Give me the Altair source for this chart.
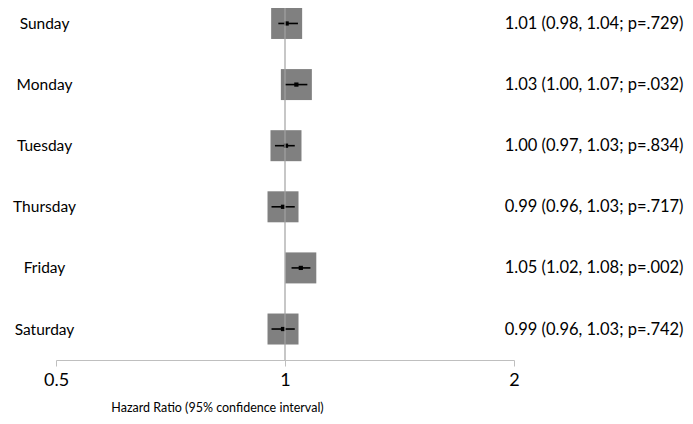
import altair as alt
import pandas as pd

days = ["Sunday", "Monday", "Tuesday", "Thursday", "Friday", "Saturday"]
hr = [1.005, 1.035, 1.003, 0.994, 1.049, 0.994]
lo = [0.98, 1.00, 0.97, 0.96, 1.02, 0.96]
hi = [1.04, 1.07, 1.03, 1.03, 1.08, 1.03]
labels = [
    "1.01 (0.98, 1.04; p=.729)",
    "1.03 (1.00, 1.07; p=.032)",
    "1.00 (0.97, 1.03; p=.834)",
    "0.99 (0.96, 1.03; p=.717)",
    "1.05 (1.02, 1.08; p=.002)",
    "0.99 (0.96, 1.03; p=.742)",
]
x_ticks = [0.5, 1, 2]
ref_value = [1]

df = pd.DataFrame({"day": days, "hr": hr, "lo": lo, "hi": hi, "label": labels})
ref = pd.DataFrame({"v": ref_value})

FONT = "Lato"

xscale = alt.Scale(type="log", domain=[0.5, 2])
yscale = alt.Scale(type="point", domain=days, padding=0.38, align=0.333)
yscale_r = alt.Scale(type="point", domain=labels, padding=0.38, align=0.333)

x_enc = alt.X(
    "hr:Q",
    scale=xscale,
    axis=alt.Axis(
        values=x_ticks,
        format="~g",
        grid=False,
        domainColor="#bfbfbf",
        tickColor="#bfbfbf",
        tickSize=6,
        labelFlush=False,
        labelFontSize=18,
        labelFont=FONT,
        labelColor="#000000",
        labelPadding=5,
        title="Hazard Ratio (95% confidence interval)",
        titleFont=FONT,
        titleFontSize=12.5,
        titleFontWeight="normal",
        titleColor="#000000",
        titleX=161,
        titleY=47,
        titleAlign="center",
        titleBaseline="middle",
    ),
)

y_left = alt.Y(
    "day:N",
    scale=yscale,
    sort=days,
    axis=alt.Axis(
        title=None,
        domain=False,
        ticks=False,
        tickSize=0,
        labelAlign="center",
        labelPadding=12,
        labelFont=FONT,
        labelFontSize=15.5,
        labelColor="#000000",
    ),
)

squares = alt.Chart(df).mark_point(
    shape="square", filled=True, size=961, color="#808080", opacity=1
).encode(x=x_enc, y=y_left)

ci = alt.Chart(df).mark_rule(color="#000000", strokeWidth=1.6).encode(
    x=alt.X("lo:Q", scale=xscale),
    x2="hi:Q",
    y=alt.Y("day:N", scale=yscale, sort=days),
)

dots = alt.Chart(df).mark_point(
    shape="square", filled=True, size=18, color="#000000", opacity=1
).encode(
    x=alt.X("hr:Q", scale=xscale),
    y=alt.Y("day:N", scale=yscale, sort=days),
)

refline = alt.Chart(ref).mark_rule(color="#a2a2a2", opacity=0.75, strokeWidth=1.6).encode(
    x=alt.X("v:Q", scale=xscale)
)

right = alt.Chart(df).mark_point(opacity=0).encode(
    x=alt.X("hr:Q", scale=xscale),
    y=alt.Y(
        "label:N",
        scale=yscale_r,
        sort=labels,
        axis=alt.Axis(
            orient="right",
            title=None,
            domain=False,
            ticks=False,
            tickSize=0,
            labelAlign="right",
            labelPadding=169,
            labelFont=FONT,
            labelFontSize=16.5,
            labelColor="#000000",
            labelLimit=400,
        ),
    ),
)

left_part = alt.layer(squares, ci, dots, refline)
chart = (
    alt.layer(left_part, right)
    .resolve_scale(y="independent")
    .properties(
        width=458,
        height=352,
        autosize=alt.AutoSizeParams(type="none"),
        padding={"left": 48, "top": 0, "right": 171, "bottom": 54},
    )
    .configure_view(stroke=None)
)

chart.save("out.html", embed_options={"renderer": "svg", "actions": False})
